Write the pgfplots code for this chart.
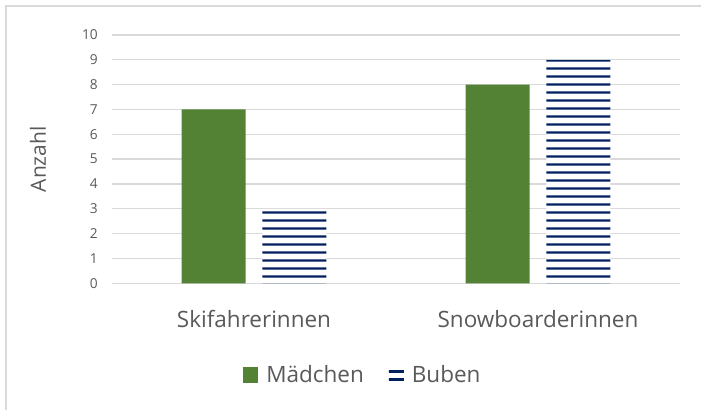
\documentclass[border=0pt]{standalone}
\usepackage{fontspec}
\setmainfont{Open Sans}
\usepackage{pgfplots}
\pgfplotsset{compat=1.18}
\usetikzlibrary{patterns}
\pgfdeclarepatternformonly{hbars}{\pgfpoint{0bp}{0bp}}{\pgfpoint{1000bp}{8bp}}{\pgfpoint{1000bp}{8bp}}{%
  \pgfpathrectangle{\pgfpoint{0bp}{5bp}}{\pgfpoint{1000bp}{2.5bp}}\pgfusepath{fill}}
\definecolor{xlgreen}{HTML}{548235}
\definecolor{xlnavy}{HTML}{002060}
\definecolor{gridgray}{HTML}{D9D9D9}
\definecolor{txtgray}{HTML}{595959}
\newcommand{\catfont}{\fontsize{22.5bp}{27bp}\selectfont}
\newcommand{\tickfont}{\fontsize{13.7bp}{16bp}\selectfont}
\newcommand{\labfont}{\fontsize{21bp}{25bp}\selectfont}
\begin{document}
\begin{tikzpicture}
\path[use as bounding box] (-112bp,-126.7bp) rectangle (589bp,283.3bp);
\draw[gridgray, line width=1.3bp] (-106bp,277.3bp) rectangle (620bp,-150bp);
\begin{axis}[
  at={(0,0)}, anchor=south west,
  scale only axis,
  width=568bp, height=248.3bp,
  ybar=16.7bp, bar width=64bp,
  xmin=-0.5, xmax=1.5,
  ymin=0, ymax=10,
  xtick={0,1},
  xticklabels={Skifahrerinnen,Snowboarderinnen},
  ytick={0,1,...,10},
  ymajorgrids,
  major grid style={gridgray, line width=1.3bp},
  axis line style={draw=none},
  major tick length=0pt,
  /pgf/number format/assume math mode=true,
  xticklabel style={font=\catfont, text=txtgray, anchor=base, inner sep=0pt, yshift=-43.7bp},
  yticklabel style={font=\tickfont, text=txtgray, anchor=east, inner sep=0pt, xshift=-14bp},
  legend columns=2,
  legend style={at={(axis description cs:0.44,-0.369)}, anchor=center, draw=none, fill=none,
    font=\catfont, text=txtgray, nodes={inner sep=0pt},
    /tikz/every odd column/.append style={column sep=8bp},
    /tikz/every even column/.append style={column sep=25bp}},
  legend image code/.code={\path[#1] (0bp,-8bp) rectangle (15bp,8bp);},
]
\addplot[fill=xlgreen, draw=none] coordinates {(0,7) (1,8)};
\addlegendentry{Mädchen}
\addplot[fill=white, draw=none, postaction={pattern=hbars, pattern color=xlnavy}] coordinates {(0,3) (1,9)};
\addlegendentry{Buben}
\end{axis}
\node[rotate=90, font=\labfont, text=txtgray] at (-74bp,124bp) {Anzahl};
\end{tikzpicture}
\end{document}
